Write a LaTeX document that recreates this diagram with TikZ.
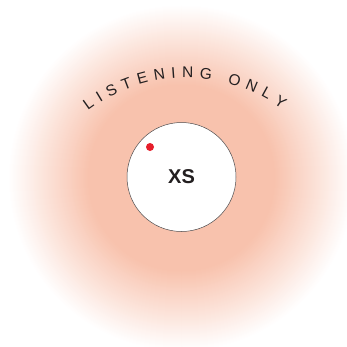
\documentclass[tikz,border=0pt]{standalone}
\usepackage{fontspec}
\setmainfont{Liberation Sans}
\definecolor{glowsalmon}{HTML}{F8C2AD}
\definecolor{inkdark}{HTML}{231F20}
\definecolor{ledred}{HTML}{E61E2B}
\def\arcscale{1.55}

\begin{document}
\begin{tikzpicture}[
    x=1pt, y=1pt,
    ring/.style={circle, draw=inkdark!80, line width=0.5pt, fill=white, minimum size=109pt, inner sep=0pt, font=\fontsize{20}{20}\selectfont\bfseries, text=inkdark},
    led/.style={circle, fill=ledred, minimum size=8pt, inner sep=0pt},
]
    \useasboundingbox (0,0) rectangle (347,346);

    % soft glow round the speaker
    \foreach \r in {173,172,...,92}{
        \pgfmathsetmacro{\pct}{min(100,100*(173-\r)/80)}
        \fill[glowsalmon!\pct!white] (181.5,168) circle (\r);
    }

    % arc label, letter by letter: measure, then spread over 127..54 deg
    \def\arctotal{0}
    \foreach \m in {L,I,S,T,E,N,I,N,G,I,O,N,L,Y}{
        \pgfmathwidth{"\m"}
        \pgfmathsetmacro{\sumw}{\arctotal + \pgfmathresult*\arcscale}
        \global\let\arctotal\sumw
    }
    \pgfmathsetmacro{\track}{(163/180*pi*73 - \arctotal)/13}
    \def\arcpos{0}
    \foreach \ch/\m [count=\i] in {L/L, I/I, S/S, T/T, E/E, N/N, I/I, N/N, G/G, {}/I, O/O, N/N, L/L, Y/Y}{
        \pgfmathwidth{"\m"}
        \pgfmathsetmacro{\cw}{\pgfmathresult*\arcscale}
        \pgfmathsetmacro{\ang}{127 - (\arcpos + \cw/2)/163*180/pi}
        \path (186,105) ++(\ang:163) node[anchor=base, inner sep=0pt, text=inkdark, scale=1.55, rotate=\ang-90] (lt\i) {\ch};
        \pgfmathsetmacro{\nextpos}{\arcpos + \cw + \track}
        \global\let\arcpos\nextpos
    }

    \node[ring] (xs) at (181.5,169) {XS};
    \node[led] (dot) at (150,199) {};
\end{tikzpicture}
\end{document}
